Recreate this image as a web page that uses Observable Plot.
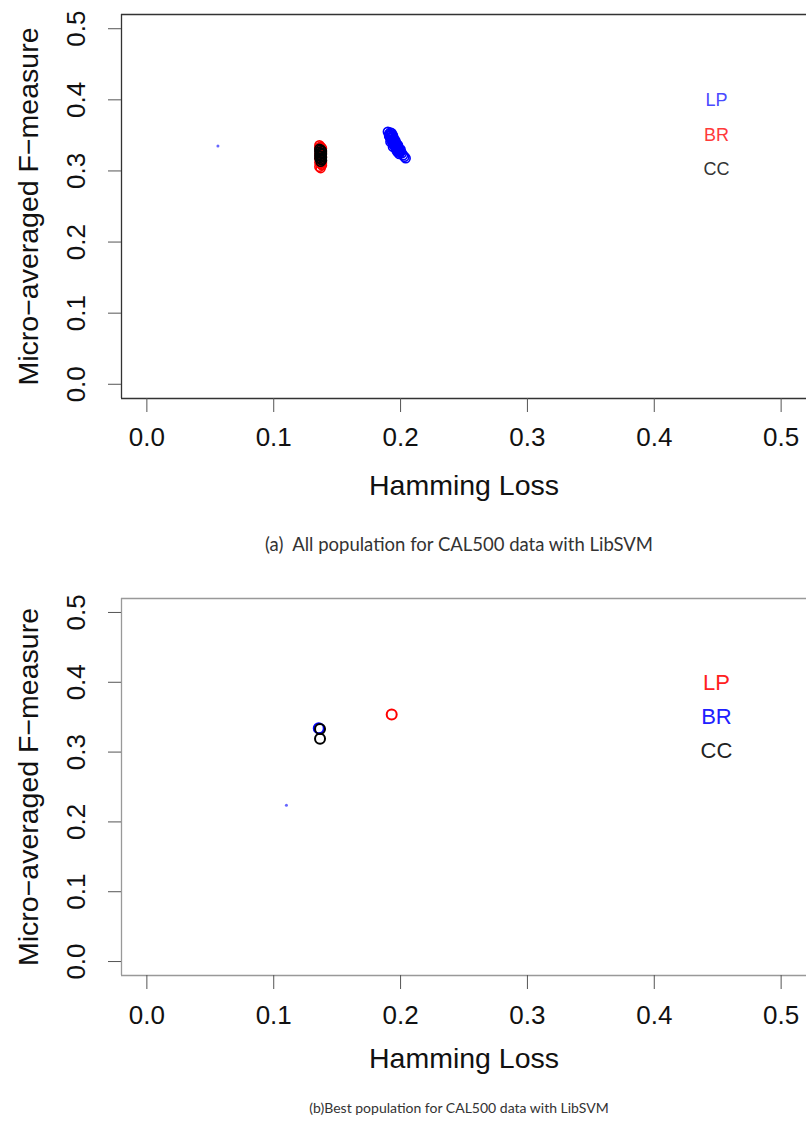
<!DOCTYPE html>
<html>
<head>
<meta charset="utf-8">
<script src="https://cdn.jsdelivr.net/npm/d3@7"></script>
<script src="https://cdn.jsdelivr.net/npm/@observablehq/plot@0.6"></script>
<style>
  html, body { margin: 0; padding: 0; background: #fff; }
  #wrap { width: 806px; height: 1131px; position: relative; overflow: hidden; }
  #wrap svg { display: block; overflow: visible; }
</style>
</head>
<body>
<div id="wrap"></div>
<script>
// ---------- data ----------
const xTicks = [0.0, 0.1, 0.2, 0.3, 0.4, 0.5];
const yTicks = [0.0, 0.1, 0.2, 0.3, 0.4, 0.5];
const legendLabels = ["LP", "BR", "CC"];

// Panel (a): all population
const lpAx = [0.190,0.191,0.192,0.191,0.193,0.192,0.194,0.193,0.192,0.194,0.195,0.194,0.196,0.195,0.194,0.196,0.197,0.196,0.197,0.198,0.197,0.198,0.199,0.198,0.200,0.199,0.201,0.202,0.203,0.204,
              0.191,0.193,0.192,0.194,0.193,0.195,0.194,0.196,0.195,0.197,0.196,0.198,0.197,0.199,0.200];
const lpAy = [0.355,0.352,0.354,0.349,0.351,0.346,0.348,0.344,0.341,0.341,0.345,0.338,0.342,0.336,0.334,0.339,0.335,0.332,0.331,0.333,0.328,0.329,0.330,0.326,0.327,0.324,0.325,0.322,0.320,0.318,
              0.350,0.353,0.347,0.350,0.342,0.343,0.340,0.337,0.339,0.338,0.335,0.336,0.333,0.327,0.330];
const brAx = [0.136,0.137,0.138,0.136,0.137,0.138,0.136,0.137,0.138,0.136,0.137,0.138,0.136,0.137,0.138,0.136,0.137,0.136,0.137,0.138];
const brAy = [0.336,0.334,0.332,0.330,0.328,0.326,0.324,0.322,0.320,0.318,0.316,0.314,0.312,0.310,0.308,0.306,0.304,0.333,0.320,0.311];
const ccAx = [0.136,0.137,0.138,0.136,0.137,0.138,0.136,0.137,0.138,0.136,0.137,0.138,0.137];
const ccAy = [0.331,0.330,0.328,0.327,0.325,0.324,0.322,0.321,0.319,0.318,0.316,0.315,0.313];
const strayAx = [0.056];
const strayAy = [0.335];

// Panel (b): best population
const lpBx = [0.193];
const lpBy = [0.354];
const brBx = [0.1355];
const brBy = [0.334];
const ccBx = [0.1365, 0.1365];
const ccBy = [0.333, 0.319];
const strayBx = [0.110];
const strayBy = [0.224];

const captionA = "(a)  All population for CAL500 data with LibSVM";
const captionB = "(b)Best population for CAL500 data with LibSVM";

// ---------- helpers ----------
const zip = (xs, ys) => xs.map((x, i) => ({x, y: ys[i]}));
const FONT = "'Liberation Sans', Arial, sans-serif";
const fmt = d3.format(".1f");

function panel({height, marginTop, marginBottom, frameColor, series, stray, legendColors, legendSize, r, sw, offTick, offLab, offCap, capSize, caption}) {
  const marks = [
    Plot.ruleX([-0.02], {stroke: frameColor, strokeWidth: 1.3}),
    Plot.ruleY([-0.02, 0.52], {stroke: frameColor, strokeWidth: 1.3}),
    Plot.axisX({ticks: xTicks, tickSize: 14, tickPadding: offTick, tickFormat: fmt, fontSize: 26, label: null, stroke: "#555", fill: "#111"}),
    Plot.axisY({ticks: yTicks, tickSize: 13, tickFormat: () => "", label: null, stroke: "#555"}),
    Plot.text(yTicks, {y: d => d, text: d => fmt(d), frameAnchor: "left", dx: -45, rotate: -90, textAnchor: "middle", lineAnchor: "middle", fontSize: 26, fill: "#111"}),
    Plot.text(["Micro\u2212averaged F\u2212measure"], {frameAnchor: "left", dx: -93, rotate: -90, textAnchor: "middle", lineAnchor: "middle", fontSize: 28.5, fill: "#111"}),
    Plot.text(["Hamming Loss"], {frameAnchor: "bottom", dy: offLab, textAnchor: "middle", lineAnchor: "middle", fontSize: 28.5, fill: "#111"}),
    Plot.text([caption], {frameAnchor: "bottom", dy: offCap, dx: -5, textAnchor: "middle", lineAnchor: "middle", fontSize: capSize, fontFamily: "Lato, 'Open Sans', sans-serif", fill: "#333"}),
    Plot.dot(stray.data, {x: "x", y: "y", r: 1.5, fill: "#6666ff", stroke: "none"})
  ];
  for (const s of series) {
    marks.push(Plot.dot(s.data, {x: "x", y: "y", r, stroke: s.color, strokeWidth: sw, fill: "none"}));
  }
  marks.push(Plot.text(legendLabels, {x: 0.449, y: (d, i) => 0.399 - i * 0.0485, text: d => d, fill: (d, i) => legendColors[i], fontSize: legendSize, textAnchor: "middle", lineAnchor: "middle"}));
  return Plot.plot({
    width: 806,
    height,
    marginLeft: 121,
    marginRight: 0,
    marginTop,
    marginBottom,
    style: {fontFamily: FONT, background: "white", overflow: "visible"},
    x: {domain: [-0.02, 0.52], axis: null},
    y: {domain: [-0.02, 0.52], axis: null},
    color: {type: "identity"},
    marks
  });
}

const wrap = document.getElementById("wrap");

wrap.appendChild(panel({
  height: 580, marginTop: 14, marginBottom: 182, frameColor: "#333",
  series: [
    {data: zip(lpAx, lpAy), color: "#0000ff"},
    {data: zip(brAx, brAy), color: "#ff0000"},
    {data: zip(ccAx, ccAy), color: "#000000"}
  ],
  stray: {data: zip(strayAx, strayAy)},
  legendColors: ["#4a4aff", "#ff3a3a", "#333333"],
  legendSize: 18, r: 4.5, sw: 1.6,
  offTick: 15, offLab: 87, offCap: 147, capSize: 18.5, caption: captionA
}));

wrap.appendChild(panel({
  height: 551, marginTop: 18, marginBottom: 156, frameColor: "#999",
  series: [
    {data: zip(lpBx, lpBy), color: "#ff0000"},
    {data: zip(brBx, brBy), color: "#0000ff"},
    {data: zip(ccBx, ccBy), color: "#000000"}
  ],
  stray: {data: zip(strayBx, strayBy)},
  legendColors: ["#ff2020", "#2020ff", "#222222"],
  legendSize: 22, r: 5, sw: 2,
  offTick: 16, offLab: 83, offCap: 133, capSize: 14, caption: captionB
}));
</script>
</body>
</html>
